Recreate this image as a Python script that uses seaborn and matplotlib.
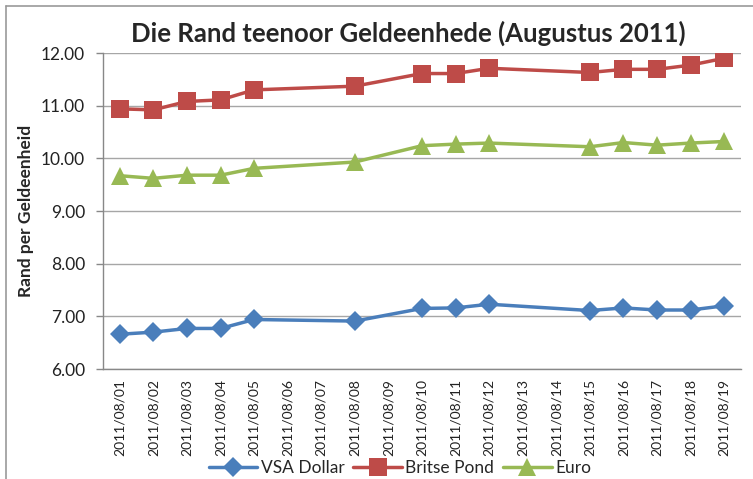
import pandas as pd
import matplotlib.pyplot as plt
import seaborn as sns
from matplotlib.lines import Line2D

# Kategorie op die x-as (alle datums, ook dié sonder data)
all_dates = ['2011/08/01', '2011/08/02', '2011/08/03', '2011/08/04', '2011/08/05',
             '2011/08/06', '2011/08/07', '2011/08/08', '2011/08/09', '2011/08/10',
             '2011/08/11', '2011/08/12', '2011/08/13', '2011/08/14', '2011/08/15',
             '2011/08/16', '2011/08/17', '2011/08/18', '2011/08/19']

# Datums met waardes
data_dates = ['2011/08/01', '2011/08/02', '2011/08/03', '2011/08/04', '2011/08/05',
              '2011/08/08', '2011/08/10', '2011/08/11', '2011/08/12', '2011/08/15',
              '2011/08/16', '2011/08/17', '2011/08/18', '2011/08/19']

vsa_dollar = [6.66, 6.70, 6.77, 6.77, 6.94, 6.91, 7.15, 7.16, 7.23, 7.11, 7.16, 7.12, 7.12, 7.20]
britse_pond = [10.94, 10.92, 11.08, 11.11, 11.30, 11.37, 11.61, 11.61, 11.71, 11.63, 11.69, 11.69, 11.77, 11.90]
euro = [9.67, 9.62, 9.68, 9.68, 9.81, 9.93, 10.24, 10.27, 10.29, 10.22, 10.30, 10.25, 10.29, 10.32]

series_names = ['VSA Dollar', 'Britse Pond', 'Euro']
series_values = [vsa_dollar, britse_pond, euro]

rows = []
for name, vals in zip(series_names, series_values):
    for d, v in zip(data_dates, vals):
        rows.append({'datum': d, 'pos': all_dates.index(d), 'reeks': name, 'waarde': v})
df = pd.DataFrame(rows)

sns.set_style('white')
plt.rcParams['font.family'] = ['Lato', 'DejaVu Sans']

palette = {'VSA Dollar': '#4A7EBB', 'Britse Pond': '#BE4B48', 'Euro': '#98B954'}
markers = {'VSA Dollar': 'D', 'Britse Pond': 's', 'Euro': '^'}
msize = {'VSA Dollar': 10.5, 'Britse Pond': 12.5, 'Euro': 13}

fig = plt.figure(figsize=(7.53, 4.79), dpi=100)
ax = fig.add_axes([103 / 753, 1 - 369 / 479, 638 / 753, 316 / 479])

for name in series_names:
    sub = df[df['reeks'] == name]
    sns.lineplot(data=sub, x='pos', y='waarde', ax=ax, color=palette[name],
                 marker=markers[name], markersize=msize[name], linewidth=2.5,
                 markeredgewidth=0, label=name, sort=True)

ax.set_xlim(-0.5, len(all_dates) - 0.5)
ax.set_ylim(6, 12)
ax.set_yticks(range(6, 13))
ax.set_yticklabels([f'{v:.2f}' for v in range(6, 13)], fontsize=12.5, color='#222222')
ax.set_xticks(range(len(all_dates)))
ax.set_xticklabels(all_dates, rotation=90, fontsize=10, color='#222222')
ax.set_xticks([i - 0.5 for i in range(len(all_dates) + 1)], minor=True)
ax.tick_params(axis='x', which='major', length=0, pad=7)
ax.tick_params(axis='x', which='minor', length=5, color='#888888', width=1)
ax.tick_params(axis='y', which='major', length=5, color='#888888', width=1, left=True, pad=8)
ax.grid(axis='y', color='#a6a6a6', linewidth=1)
ax.set_axisbelow(True)
for s in ['top', 'right']:
    ax.spines[s].set_visible(False)
for s in ['left', 'bottom']:
    ax.spines[s].set_color('#888888')
    ax.spines[s].set_linewidth(1)

ax.set_xlabel('')
ax.set_ylabel('')
fig.text(26 / 753, 1 - 211 / 479, 'Rand per Geldeenheid', rotation=90, fontsize=12.5,
         fontweight='bold', ha='center', va='center')
fig.text(408 / 753, 1 - 33 / 479, 'Die Rand teenoor Geldeenhede (Augustus 2011)',
         fontsize=18.5, fontweight='bold', ha='center', va='center')

ax.legend(loc='center', bbox_to_anchor=(400 / 753, 1 - 468 / 479), bbox_transform=fig.transFigure,
          ncol=3, frameon=False, fontsize=12.5, handlelength=2.8, columnspacing=0.5,
          handletextpad=0.2, borderpad=0)

# rand van die grafiekgebied
fig.add_artist(Line2D([6 / 753, 6 / 753], [0, 1 - 6 / 479], color='#999999', lw=1.2))
fig.add_artist(Line2D([6 / 753, 1], [1 - 6 / 479, 1 - 6 / 479], color='#999999', lw=1.2))

fig.savefig('out.png', dpi=100)
